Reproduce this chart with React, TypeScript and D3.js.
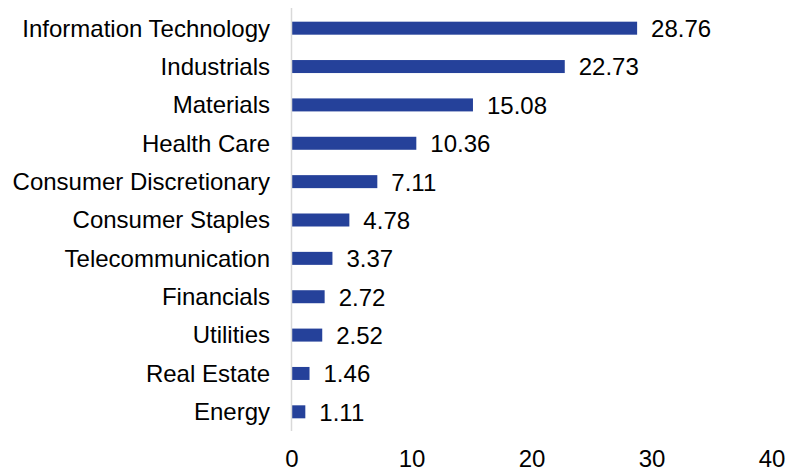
import React from "react";
import * as d3 from "d3";

const categories = [
  "Information Technology",
  "Industrials",
  "Materials",
  "Health Care",
  "Consumer Discretionary",
  "Consumer Staples",
  "Telecommunication",
  "Financials",
  "Utilities",
  "Real Estate",
  "Energy",
];
const values = [28.76, 22.73, 15.08, 10.36, 7.11, 4.78, 3.37, 2.72, 2.52, 1.46, 1.11];
const valueLabels = ["28.76", "22.73", "15.08", "10.36", "7.11", "4.78", "3.37", "2.72", "2.52", "1.46", "1.11"];
const ticks = [0, 10, 20, 30, 40];

const W = 787;
const H = 468;
const FONT = "'Liberation Sans', Arial, sans-serif";
const FS = 24;

export default function App() {
  const x = d3.scaleLinear().domain([0, 40]).range([292, 772]);
  const y = d3.scaleBand<string>().domain(categories).range([9, 431]).paddingInner(0.66).paddingOuter(0.33);
  return (
    <svg width={W} height={H} style={{ position: "absolute", left: 0, top: 0 }} fontFamily={FONT}>
      <rect width={W} height={H} fill="#fff" />
      {categories.map((c, i) => {
        const yc = (y(c) as number) + y.bandwidth() / 2;
        return (
          <g key={c}>
            <rect x={x(0)} y={yc - 6.5} width={x(values[i]) - x(0)} height={13} fill="#25419A" />
            <text x={270} y={yc} dy="0.35em" textAnchor="end" fontSize={FS} fill="#000">
              {c}
            </text>
            <text x={x(values[i]) + 14} y={yc + 0.5} dy="0.35em" fontSize={FS} fill="#000">
              {valueLabels[i]}
            </text>
          </g>
        );
      })}
      <line x1={291.5} x2={291.5} y1={8} y2={431} stroke="#d9d9d9" strokeWidth={1.5} />
      {ticks.map((t) => (
        <text key={t} x={x(t)} y={467} textAnchor="middle" fontSize={FS} fill="#000">
          {t}
        </text>
      ))}
    </svg>
  );
}
